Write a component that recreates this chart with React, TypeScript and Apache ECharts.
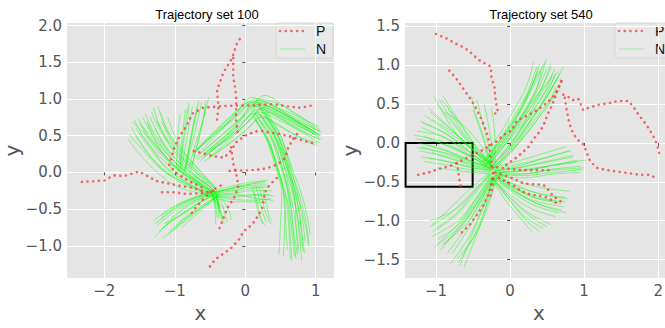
import React, { useEffect, useRef } from "react";
import * as echarts from "echarts";

type Pt = [number, number];

const titles = ["Trajectory set 100", "Trajectory set 540"];
const legendNames = ["P", "N"];

const leftXTicks = [-2, -1, 0, 1];
const leftYTicks = [-1, -0.5, 0, 0.5, 1, 1.5, 2];
const rightXTicks = [-1, 0, 1, 2];
const rightYTicks = [-1.5, -1, -0.5, 0, 0.5, 1, 1.5];

const leftXRange: Pt = [-2.53, 1.26];
const leftYRange: Pt = [-1.44, 2.035];
const rightXRange: Pt = [-1.418, 2.2];
const rightYRange: Pt = [-1.738, 1.542];

// black box in the right panel: [x0, y0], [x1, y1]
const boxRegion: Pt[] = [[-1.41, 0.0], [-0.505, -0.563]];

// ---------- left panel: red "P" trajectories ----------
const leftP: Pt[][] = [
  [[-2.32, -0.13], [-2.0, -0.11], [-1.87, -0.04], [-1.72, -0.05], [-1.55, 0.0], [-1.5, 0.01], [-1.37, -0.06], [-1.25, -0.12], [-1.1, -0.15], [-0.94, -0.18], [-0.75, -0.21], [-0.58, -0.26]],
  [[-1.18, -0.27], [-1.0, -0.27], [-0.87, -0.29], [-0.73, -0.29], [-0.6, -0.28], [-0.45, -0.25]],
  [[-0.4, 0.72], [-0.38, 0.88], [-0.4, 1.12], [-0.35, 1.25], [-0.31, 1.36], [-0.19, 1.55], [-0.12, 1.75], [-0.05, 1.86]],
  [[-0.11, 0.55], [-0.13, 0.72], [-0.13, 0.88], [-0.13, 1.01], [-0.14, 1.14], [-0.17, 1.29], [-0.17, 1.45], [-0.17, 1.62]],
  [[-0.62, -0.2], [-0.8, -0.12], [-0.99, 0.0], [-1.08, 0.1], [-1.01, 0.33], [-0.92, 0.51], [-0.83, 0.64], [-0.75, 0.8], [-0.6, 0.88], [-0.35, 0.9], [-0.17, 0.91], [0.02, 0.91], [0.21, 0.92], [0.4, 0.93], [0.59, 0.9], [0.78, 0.88], [0.99, 0.92]],
  [[-0.73, 0.29], [-0.6, 0.26], [-0.45, 0.22], [-0.3, 0.2], [-0.2, 0.3], [-0.12, 0.42], [0.0, 0.5], [0.12, 0.55], [0.21, 0.57], [0.31, 0.55], [0.45, 0.53], [0.64, 0.49], [0.83, 0.43], [0.99, 0.39]],
  [[-0.5, -1.28], [-0.43, -1.19], [-0.33, -1.12], [-0.21, -1.04], [-0.1, -0.93], [-0.02, -0.8], [0.1, -0.71], [0.19, -0.58], [0.24, -0.49], [0.26, -0.38], [0.28, -0.27], [0.33, -0.19], [0.4, -0.12], [0.5, -0.03]],
  [[-0.22, 0.02], [0.07, 0.03], [0.22, 0.04], [0.35, 0.07], [0.43, 0.1], [0.5, 0.14], [0.57, 0.2], [0.61, 0.34], [0.69, 0.47], [0.76, 0.55]],
  [[-0.2, 0.34], [-0.17, 0.12], [-0.12, -0.05], [-0.1, -0.2], [-0.16, -0.35], [-0.25, -0.48], [-0.3, -0.6], [-0.35, -0.72], [-0.38, -0.8]],
  [[-0.35, -0.18], [-0.45, -0.23], [-0.59, -0.36], [-0.71, -0.49], [-0.78, -0.58]],
];

// ---------- left panel: green "N" trajectories ----------
const leftN: Pt[][] = [
  // upper-left bundle converging near (-0.42, -0.28)
  [[-1.65, 0.52], [-1.45, 0.3], [-1.2, 0.05], [-0.85, -0.15], [-0.5, -0.28]],
  [[-1.58, 0.72], [-1.42, 0.45], [-1.18, 0.18], [-0.9, -0.05], [-0.55, -0.25]],
  [[-1.5, 0.68], [-1.35, 0.42], [-1.1, 0.15], [-0.8, -0.08], [-0.45, -0.3]],
  [[-1.42, 0.8], [-1.3, 0.55], [-1.08, 0.28], [-0.82, 0.02], [-0.5, -0.22], [-0.38, -0.45]],
  [[-1.35, 0.75], [-1.22, 0.5], [-1.02, 0.22], [-0.75, -0.02], [-0.45, -0.25], [-0.35, -0.55]],
  [[-1.3, 0.88], [-1.2, 0.6], [-1.0, 0.32], [-0.72, 0.05], [-0.42, -0.2]],
  [[-1.25, 0.7], [-1.12, 0.45], [-0.95, 0.2], [-0.7, -0.05], [-0.42, -0.3], [-0.38, -0.62]],
  [[-1.55, 0.6], [-1.38, 0.36], [-1.15, 0.1], [-0.85, -0.12], [-0.5, -0.32]],
  [[-1.45, 0.62], [-1.28, 0.4], [-1.05, 0.12], [-0.78, -0.1], [-0.48, -0.28], [-0.42, -0.7]],
  [[-1.2, 0.82], [-1.1, 0.55], [-0.92, 0.28], [-0.68, 0.02], [-0.4, -0.25]],
  [[-1.62, 0.62], [-1.48, 0.4], [-1.25, 0.12], [-0.95, -0.1], [-0.6, -0.25], [-0.4, -0.35]],
  [[-1.38, 0.65], [-1.25, 0.38], [-1.02, 0.1], [-0.72, -0.12], [-0.45, -0.35], [-0.32, -0.65]],
  [[-1.1, 0.75], [-1.0, 0.5], [-0.85, 0.25], [-0.62, 0.0], [-0.38, -0.28]],
  [[-1.5, 0.55], [-1.32, 0.32], [-1.12, 0.05], [-0.8, -0.16], [-0.48, -0.35], [-0.3, -0.5]],
  [[-1.28, 0.6], [-1.15, 0.36], [-0.98, 0.12], [-0.74, -0.08], [-0.46, -0.26]],
  [[-1.6, 0.68], [-1.4, 0.5], [-1.16, 0.24], [-0.88, 0.0], [-0.58, -0.2], [-0.44, -0.3]],
  [[-1.66, 0.45], [-1.5, 0.25], [-1.25, 0.0], [-0.95, -0.2], [-0.55, -0.3]],
  [[-1.52, 0.74], [-1.38, 0.5], [-1.14, 0.22], [-0.86, -0.02], [-0.52, -0.24], [-0.4, -0.5]],
  [[-1.4, 0.7], [-1.26, 0.46], [-1.04, 0.18], [-0.76, -0.06], [-0.46, -0.28]],
  [[-1.33, 0.82], [-1.2, 0.56], [-0.98, 0.26], [-0.7, 0.0], [-0.44, -0.24], [-0.36, -0.5]],
  [[-1.18, 0.68], [-1.06, 0.44], [-0.9, 0.2], [-0.66, -0.04], [-0.4, -0.3]],
  [[-1.56, 0.5], [-1.4, 0.28], [-1.18, 0.04], [-0.88, -0.16], [-0.52, -0.3]],
  [[-1.46, 0.76], [-1.33, 0.52], [-1.12, 0.26], [-0.84, 0.0], [-0.54, -0.2], [-0.42, -0.4]],
  [[-1.24, 0.9], [-1.14, 0.64], [-0.96, 0.36], [-0.7, 0.08], [-0.44, -0.18]],
  // lower-left fan
  [[-0.42, -0.28], [-0.7, -0.4], [-1.0, -0.6], [-1.28, -0.88]],
  [[-0.45, -0.3], [-0.72, -0.45], [-0.98, -0.62], [-1.22, -0.8]],
  [[-0.4, -0.25], [-0.65, -0.35], [-0.95, -0.5], [-1.25, -0.72]],
  [[-0.38, -0.32], [-0.62, -0.48], [-0.88, -0.65], [-1.1, -0.85]],
  [[-0.42, -0.26], [-0.68, -0.32], [-0.92, -0.42], [-1.2, -0.6]],
  [[-0.36, -0.3], [-0.58, -0.45], [-0.8, -0.6], [-1.02, -0.78]],
  [[-0.44, -0.3], [-0.7, -0.38], [-0.9, -0.5], [-1.05, -0.62]],
  [[-0.4, -0.34], [-0.6, -0.5], [-0.75, -0.62], [-0.9, -0.75]],
  [[-0.46, -0.27], [-0.75, -0.36], [-1.05, -0.48], [-1.3, -0.66]],
  [[-0.38, -0.28], [-0.62, -0.4], [-0.85, -0.55], [-1.15, -0.7]],
  [[-0.42, -0.3], [-0.66, -0.42], [-0.92, -0.58], [-1.18, -0.76]],
  [[-0.44, -0.28], [-0.72, -0.36], [-1.0, -0.5], [-1.28, -0.7]],
  [[-0.38, -0.3], [-0.6, -0.44], [-0.84, -0.6], [-1.08, -0.8]],
  [[-0.4, -0.32], [-0.64, -0.5], [-0.9, -0.7], [-1.18, -0.9]],
  [[-0.45, -0.26], [-0.7, -0.34], [-0.96, -0.46], [-1.2, -0.64]],
  // horizontal fan to the right
  [[-0.45, -0.28], [-0.2, -0.22], [0.05, -0.18], [0.3, -0.17]],
  [[-0.42, -0.3], [-0.15, -0.28], [0.1, -0.25], [0.38, -0.25]],
  [[-0.4, -0.26], [-0.1, -0.2], [0.15, -0.14], [0.32, -0.1]],
  [[-0.44, -0.32], [-0.18, -0.34], [0.08, -0.32], [0.35, -0.3]],
  [[-0.38, -0.3], [-0.12, -0.3], [0.12, -0.35], [0.4, -0.38]],
  [[-0.4, -0.28], [-0.15, -0.25], [0.1, -0.22], [0.25, -0.2]],
  [[-0.43, -0.34], [-0.2, -0.4], [0.05, -0.4], [0.3, -0.42]],
  [[-0.4, -0.24], [-0.12, -0.17], [0.1, -0.13], [0.28, -0.12]],
  [[-0.44, -0.26], [-0.18, -0.24], [0.08, -0.2], [0.34, -0.2]],
  [[-0.4, -0.32], [-0.14, -0.32], [0.12, -0.3], [0.4, -0.32]],
  [[-0.42, -0.28], [-0.16, -0.2], [0.06, -0.16], [0.3, -0.14]],
  [[-0.41, -0.33], [-0.16, -0.37], [0.1, -0.38], [0.36, -0.36]],
  // short bundle going down from the convergence
  [[-0.42, -0.28], [-0.38, -0.45], [-0.35, -0.6], [-0.3, -0.7]],
  [[-0.4, -0.3], [-0.32, -0.45], [-0.28, -0.6], [-0.25, -0.68]],
  [[-0.45, -0.3], [-0.42, -0.48], [-0.4, -0.62]],
  [[-0.38, -0.27], [-0.3, -0.4], [-0.22, -0.55], [-0.2, -0.65]],
  [[-0.42, -0.32], [-0.36, -0.5], [-0.3, -0.66]],
  // small bundle going down right of centre
  [[0.1, -0.2], [0.15, -0.4], [0.2, -0.6], [0.25, -0.7]],
  [[0.15, -0.18], [0.2, -0.38], [0.25, -0.55], [0.3, -0.68]],
  [[0.2, -0.2], [0.25, -0.4], [0.3, -0.58], [0.36, -0.7]],
  [[0.12, -0.25], [0.18, -0.45], [0.22, -0.62], [0.28, -0.72]],
  [[0.25, -0.22], [0.3, -0.42], [0.34, -0.6], [0.38, -0.66]],
  // upward bundle around x = -0.8
  [[-0.95, 0.0], [-0.92, 0.3], [-0.88, 0.6], [-0.85, 0.85]],
  [[-0.9, 0.05], [-0.85, 0.35], [-0.8, 0.62], [-0.75, 0.9]],
  [[-0.85, 0.0], [-0.78, 0.3], [-0.7, 0.6], [-0.62, 0.95]],
  [[-0.8, 0.05], [-0.72, 0.35], [-0.62, 0.65], [-0.52, 1.02]],
  [[-0.92, 0.1], [-0.88, 0.4], [-0.82, 0.7], [-0.8, 0.95]],
  [[-0.75, 0.1], [-0.68, 0.4], [-0.6, 0.7], [-0.55, 0.92]],
  [[-0.88, -0.05], [-0.82, 0.25], [-0.76, 0.55], [-0.7, 0.82]],
  [[-0.98, 0.05], [-0.96, 0.35], [-0.95, 0.6], [-0.92, 0.8]],
  [[-0.86, 0.02], [-0.8, 0.32], [-0.74, 0.62], [-0.68, 0.9]],
  [[-0.93, 0.0], [-0.9, 0.3], [-0.86, 0.58], [-0.82, 0.88]],
  [[-0.78, 0.0], [-0.7, 0.3], [-0.62, 0.6], [-0.56, 0.98]],
  [[-0.84, 0.08], [-0.78, 0.38], [-0.72, 0.68], [-0.66, 0.98]],
  // arc over the top to the right
  [[-0.7, 0.2], [-0.4, 0.45], [-0.1, 0.7], [0.1, 0.9], [0.4, 0.8], [0.7, 0.65], [1.05, 0.5]],
  [[-0.65, 0.25], [-0.35, 0.5], [-0.05, 0.75], [0.15, 0.95], [0.45, 0.85], [0.75, 0.7], [1.08, 0.55]],
  [[-0.6, 0.2], [-0.3, 0.42], [0.0, 0.65], [0.2, 0.82], [0.5, 0.7], [0.8, 0.55], [1.05, 0.4]],
  [[-0.72, 0.28], [-0.45, 0.55], [-0.15, 0.8], [0.1, 1.02], [0.4, 0.9], [0.7, 0.78], [1.0, 0.6]],
  [[-0.55, 0.25], [-0.25, 0.45], [0.05, 0.7], [0.25, 0.88], [0.55, 0.75], [0.85, 0.6], [1.08, 0.45]],
  [[-0.68, 0.18], [-0.38, 0.38], [-0.08, 0.62], [0.12, 0.8], [0.42, 0.68], [0.72, 0.5], [1.02, 0.36]],
  [[-0.5, 0.3], [-0.2, 0.55], [0.05, 0.85], [0.28, 1.05], [0.55, 0.9], [0.85, 0.72], [1.05, 0.62]],
  [[-0.62, 0.3], [-0.32, 0.6], [-0.05, 0.88], [0.2, 0.98], [0.5, 0.85], [0.8, 0.66], [1.0, 0.55]],
  [[-0.58, 0.15], [-0.28, 0.35], [0.02, 0.58], [0.22, 0.75], [0.5, 0.62], [0.78, 0.48], [1.02, 0.4]],
  [[-0.75, 0.22], [-0.5, 0.48], [-0.2, 0.72], [0.05, 0.95], [0.35, 0.86], [0.65, 0.72], [0.95, 0.58]],
  [[-0.66, 0.34], [-0.4, 0.58], [-0.12, 0.84], [0.16, 1.0], [0.46, 0.94], [0.78, 0.76], [1.06, 0.58]],
  [[-0.52, 0.2], [-0.22, 0.4], [0.06, 0.62], [0.3, 0.82], [0.6, 0.68], [0.9, 0.52], [1.06, 0.44]],
  [[-0.7, 0.3], [-0.42, 0.52], [-0.12, 0.76], [0.12, 0.96], [0.42, 0.86], [0.72, 0.7], [1.04, 0.52]],
  [[-0.6, 0.24], [-0.3, 0.48], [0.0, 0.72], [0.22, 0.92], [0.52, 0.8], [0.82, 0.64], [1.08, 0.5]],
  [[-0.64, 0.16], [-0.34, 0.4], [-0.04, 0.66], [0.18, 0.86], [0.48, 0.74], [0.76, 0.58], [1.04, 0.46]],
  [[-0.56, 0.28], [-0.26, 0.52], [0.02, 0.8], [0.26, 0.96], [0.56, 0.82], [0.86, 0.66], [1.06, 0.56]],
  [[-0.74, 0.26], [-0.46, 0.5], [-0.16, 0.74], [0.08, 0.92], [0.38, 0.82], [0.68, 0.68], [0.98, 0.52]],
  [[-0.5, 0.22], [-0.2, 0.46], [0.08, 0.72], [0.3, 0.9], [0.58, 0.78], [0.88, 0.6], [1.06, 0.5]],
  // tall bundle on the right going down
  [[0.15, 0.85], [0.35, 0.55], [0.5, 0.15], [0.6, -0.25], [0.65, -0.7], [0.7, -1.15]],
  [[0.2, 0.8], [0.4, 0.5], [0.55, 0.1], [0.68, -0.3], [0.75, -0.7], [0.8, -1.2]],
  [[0.25, 0.75], [0.45, 0.45], [0.6, 0.05], [0.75, -0.35], [0.85, -0.7], [0.9, -1.0]],
  [[0.1, 0.8], [0.28, 0.5], [0.42, 0.1], [0.52, -0.3], [0.5, -0.7], [0.48, -1.12]],
  [[0.3, 0.8], [0.5, 0.5], [0.65, 0.1], [0.8, -0.3], [0.88, -0.6], [0.92, -0.85]],
  [[0.18, 0.9], [0.38, 0.6], [0.52, 0.2], [0.62, -0.2], [0.7, -0.6], [0.76, -1.05]],
  [[0.22, 0.78], [0.42, 0.48], [0.58, 0.08], [0.7, -0.32], [0.72, -0.75], [0.75, -1.1]],
  [[0.12, 0.75], [0.32, 0.45], [0.45, 0.05], [0.56, -0.35], [0.58, -0.8], [0.6, -1.05]],
  [[0.28, 0.85], [0.48, 0.55], [0.62, 0.15], [0.72, -0.2], [0.8, -0.55], [0.85, -0.95]],
  [[0.15, 0.7], [0.34, 0.4], [0.48, 0.0], [0.6, -0.4], [0.64, -0.85], [0.66, -1.2]],
  [[0.2, 0.72], [0.4, 0.42], [0.54, 0.02], [0.64, -0.38], [0.68, -0.8], [0.72, -1.18]],
  [[0.26, 0.82], [0.46, 0.52], [0.6, 0.12], [0.7, -0.25], [0.78, -0.62], [0.82, -1.08]],
  [[0.16, 0.78], [0.36, 0.48], [0.5, 0.08], [0.62, -0.32], [0.68, -0.75], [0.74, -1.12]],
  [[0.24, 0.86], [0.44, 0.56], [0.58, 0.16], [0.7, -0.22], [0.78, -0.66], [0.84, -1.1]],
  [[0.12, 0.84], [0.3, 0.52], [0.44, 0.14], [0.54, -0.26], [0.56, -0.72], [0.54, -1.15]],
  [[0.3, 0.74], [0.5, 0.44], [0.64, 0.04], [0.78, -0.34], [0.86, -0.66], [0.9, -0.95]],
  [[0.2, 0.9], [0.4, 0.6], [0.55, 0.22], [0.66, -0.18], [0.74, -0.58], [0.8, -1.0]],
  [[0.14, 0.72], [0.32, 0.42], [0.46, 0.04], [0.58, -0.36], [0.62, -0.78], [0.64, -1.18]],
];

// ---------- right panel: red "P" trajectories ----------
const rightP: Pt[][] = [
  [[-1.0, 1.4], [-0.92, 1.37], [-0.85, 1.34], [-0.74, 1.28], [-0.61, 1.22], [-0.54, 1.17], [-0.45, 1.09], [-0.38, 1.04], [-0.31, 1.01], [-0.26, 0.98], [-0.25, 0.84], [-0.21, 0.72], [-0.2, 0.59], [-0.18, 0.47], [-0.16, 0.39], [-0.23, 0.37]],
  [[-0.82, 0.93], [-0.71, 0.81], [-0.64, 0.71], [-0.56, 0.6], [-0.49, 0.5], [-0.44, 0.41], [-0.37, 0.27], [-0.31, 0.12], [-0.28, 0.0], [-0.27, -0.15], [-0.24, -0.3], [-0.22, -0.45], [-0.24, -0.58], [-0.27, -0.7]],
  [[-1.24, -0.41], [-1.1, -0.38], [-0.95, -0.33], [-0.82, -0.3], [-0.72, -0.26], [-0.62, -0.21], [-0.52, -0.16], [-0.42, -0.12], [-0.3, -0.05], [-0.18, 0.02], [-0.09, 0.1], [0.02, 0.16], [0.09, 0.28], [0.16, 0.32], [0.27, 0.37], [0.38, 0.43], [0.49, 0.51], [0.58, 0.59], [0.65, 0.69], [0.7, 0.8], [0.72, 0.84]],
  [[-0.05, -0.28], [0.1, -0.18], [0.25, -0.05], [0.31, 0.04], [0.38, 0.12], [0.45, 0.22], [0.5, 0.35], [0.56, 0.47], [0.61, 0.59], [0.65, 0.71], [0.7, 0.82]],
  [[0.72, 0.62], [0.79, 0.59], [0.85, 0.55], [0.92, 0.57], [0.99, 0.42], [1.06, 0.45], [1.19, 0.49], [1.33, 0.51], [1.46, 0.54], [1.6, 0.54], [1.66, 0.47], [1.73, 0.37], [1.82, 0.26], [1.89, 0.16], [1.96, 0.04], [2.0, -0.07], [2.02, -0.16]],
  [[0.74, 0.58], [0.76, 0.45], [0.79, 0.3], [0.83, 0.17], [0.9, 0.05], [0.99, -0.02], [1.03, -0.11], [1.08, -0.23], [1.17, -0.32], [1.31, -0.35], [1.46, -0.37], [1.61, -0.39], [1.75, -0.41], [1.89, -0.41], [1.96, -0.45]],
  [[-0.65, -1.15], [-0.54, -1.05], [-0.45, -0.93], [-0.36, -0.8], [-0.29, -0.66], [-0.25, -0.52], [-0.22, -0.35]],
  [[-0.25, -0.3], [-0.05, -0.33], [0.18, -0.35], [0.36, -0.35], [0.54, -0.35]],
  [[-0.2, -0.38], [0.0, -0.44], [0.18, -0.52], [0.32, -0.53], [0.45, -0.54], [0.5, -0.58], [0.54, -0.64], [0.63, -0.72], [0.7, -0.76]],
  [[-0.15, -0.45], [0.05, -0.55], [0.15, -0.62], [0.27, -0.66], [0.4, -0.68], [0.49, -0.7], [0.6, -0.75], [0.65, -0.8]],
  [[-0.72, -0.26], [-0.7, -0.35], [-0.69, -0.43], [-0.68, -0.49], [-0.66, -0.58]],
];

// ---------- right panel: green "N" trajectories ----------
const rightN: Pt[][] = [
  // up-right
  [[-0.35, -0.25], [-0.1, 0.05], [0.1, 0.35], [0.3, 0.7], [0.45, 1.0]],
  [[-0.3, -0.3], [-0.05, 0.0], [0.15, 0.3], [0.38, 0.6], [0.55, 1.02]],
  [[-0.25, -0.3], [0.0, -0.05], [0.2, 0.25], [0.42, 0.5], [0.65, 0.85]],
  [[-0.4, -0.2], [-0.15, 0.1], [0.05, 0.42], [0.22, 0.72], [0.32, 1.05]],
  [[-0.28, -0.35], [0.02, -0.1], [0.25, 0.2], [0.48, 0.48], [0.7, 0.8]],
  [[-0.32, -0.22], [-0.08, 0.1], [0.12, 0.4], [0.3, 0.75], [0.5, 1.08]],
  [[-0.22, -0.28], [0.05, 0.0], [0.28, 0.3], [0.5, 0.6], [0.72, 0.98]],
  [[-0.38, -0.28], [-0.12, 0.02], [0.08, 0.3], [0.25, 0.62], [0.38, 0.95]],
  [[-0.2, -0.35], [0.08, -0.05], [0.3, 0.22], [0.52, 0.5], [0.62, 0.72]],
  [[-0.35, -0.32], [-0.1, -0.05], [0.15, 0.22], [0.35, 0.52], [0.58, 0.9]],
  [[-0.3, -0.25], [-0.05, 0.08], [0.18, 0.38], [0.35, 0.68], [0.42, 0.92]],
  [[-0.26, -0.33], [0.0, -0.02], [0.22, 0.3], [0.45, 0.62], [0.6, 0.95]],
  [[-0.33, -0.28], [-0.06, 0.04], [0.16, 0.34], [0.4, 0.66], [0.66, 0.92]],
  [[-0.24, -0.36], [0.04, -0.08], [0.26, 0.16], [0.46, 0.42], [0.68, 0.7]],
  [[-0.34, -0.3], [-0.08, 0.0], [0.14, 0.3], [0.34, 0.62], [0.5, 0.96]],
  [[-0.29, -0.28], [-0.02, 0.04], [0.2, 0.34], [0.4, 0.66], [0.56, 0.98]],
  [[-0.36, -0.24], [-0.12, 0.06], [0.1, 0.38], [0.28, 0.7], [0.4, 1.02]],
  [[-0.24, -0.34], [0.04, -0.04], [0.26, 0.26], [0.48, 0.56], [0.68, 0.9]],
  [[-0.3, -0.34], [-0.04, -0.06], [0.2, 0.24], [0.4, 0.54], [0.6, 0.84]],
  [[-0.4, -0.26], [-0.14, 0.04], [0.06, 0.36], [0.24, 0.66], [0.36, 0.98]],
  [[-0.22, -0.32], [0.06, -0.02], [0.28, 0.28], [0.48, 0.6], [0.62, 0.9]],
  [[-0.32, -0.26], [-0.06, 0.06], [0.16, 0.36], [0.36, 0.7], [0.48, 1.04]],
  // up-left
  [[-0.25, -0.3], [-0.5, -0.1], [-0.75, 0.15], [-1.03, 0.6]],
  [[-0.3, -0.28], [-0.55, -0.05], [-0.82, 0.2], [-1.1, 0.45]],
  [[-0.2, -0.32], [-0.45, -0.12], [-0.72, 0.1], [-1.05, 0.3]],
  [[-0.28, -0.25], [-0.5, 0.0], [-0.7, 0.28], [-0.92, 0.55]],
  [[-0.22, -0.35], [-0.5, -0.15], [-0.85, 0.05], [-1.2, 0.2]],
  [[-0.32, -0.3], [-0.6, -0.12], [-0.9, 0.08], [-1.25, 0.15]],
  [[-0.25, -0.28], [-0.48, -0.05], [-0.68, 0.2], [-0.85, 0.48]],
  [[-0.3, -0.32], [-0.58, -0.15], [-0.95, 0.0], [-1.28, 0.05]],
  [[-0.24, -0.3], [-0.52, -0.08], [-0.8, 0.12], [-1.15, 0.35]],
  [[-0.2, -0.25], [-0.42, 0.0], [-0.62, 0.22], [-0.88, 0.4]],
  [[-0.27, -0.27], [-0.54, -0.02], [-0.78, 0.26], [-0.98, 0.5]],
  [[-0.26, -0.32], [-0.54, -0.12], [-0.84, 0.1], [-1.18, 0.26]],
  [[-0.28, -0.26], [-0.52, -0.02], [-0.74, 0.24], [-0.96, 0.56]],
  [[-0.22, -0.3], [-0.48, -0.1], [-0.76, 0.14], [-1.08, 0.4]],
  [[-0.3, -0.3], [-0.56, -0.1], [-0.86, 0.12], [-1.22, 0.28]],
  [[-0.24, -0.28], [-0.46, -0.04], [-0.66, 0.24], [-0.9, 0.6]],
  [[-0.27, -0.33], [-0.56, -0.16], [-0.92, 0.02], [-1.3, 0.1]],
  // up
  [[-0.25, -0.3], [-0.3, 0.0], [-0.38, 0.3], [-0.45, 0.55]],
  [[-0.22, -0.3], [-0.25, 0.0], [-0.3, 0.28], [-0.35, 0.5]],
  [[-0.28, -0.28], [-0.35, 0.02], [-0.45, 0.3], [-0.52, 0.6]],
  [[-0.2, -0.32], [-0.2, -0.05], [-0.22, 0.25], [-0.25, 0.45]],
  [[-0.26, -0.35], [-0.32, -0.05], [-0.4, 0.2], [-0.5, 0.42]],
  // left
  [[-0.25, -0.35], [-0.55, -0.25], [-0.85, -0.15], [-1.2, -0.05]],
  [[-0.28, -0.32], [-0.6, -0.2], [-0.9, -0.08], [-1.25, 0.0]],
  [[-0.22, -0.38], [-0.5, -0.32], [-0.8, -0.25], [-1.1, -0.2]],
  [[-0.3, -0.35], [-0.6, -0.3], [-0.92, -0.22], [-1.2, -0.18]],
  [[-0.25, -0.4], [-0.5, -0.38], [-0.75, -0.35], [-1.0, -0.32]],
  [[-0.24, -0.3], [-0.52, -0.18], [-0.82, -0.05], [-1.15, 0.08]],
  [[-0.26, -0.36], [-0.56, -0.28], [-0.88, -0.18], [-1.22, -0.1]],
  [[-0.24, -0.34], [-0.52, -0.24], [-0.82, -0.12], [-1.14, -0.02]],
  [[-0.28, -0.38], [-0.58, -0.34], [-0.88, -0.28], [-1.16, -0.24]],
  [[-0.23, -0.36], [-0.5, -0.28], [-0.78, -0.2], [-1.06, -0.12]],
  [[-0.27, -0.32], [-0.58, -0.22], [-0.9, -0.12], [-1.26, -0.06]],
  // down-left
  [[-0.25, -0.4], [-0.45, -0.7], [-0.7, -1.0], [-1.05, -1.2]],
  [[-0.22, -0.45], [-0.4, -0.75], [-0.6, -1.05], [-0.9, -1.3]],
  [[-0.2, -0.42], [-0.35, -0.8], [-0.5, -1.15], [-0.68, -1.58]],
  [[-0.28, -0.42], [-0.5, -0.65], [-0.78, -0.88], [-1.08, -1.0]],
  [[-0.24, -0.45], [-0.42, -0.8], [-0.62, -1.12], [-0.85, -1.42]],
  [[-0.26, -0.38], [-0.48, -0.62], [-0.72, -0.9], [-1.0, -1.1]],
  [[-0.18, -0.45], [-0.3, -0.82], [-0.48, -1.2], [-0.72, -1.5]],
  [[-0.3, -0.4], [-0.55, -0.6], [-0.82, -0.85], [-1.05, -1.05]],
  [[-0.22, -0.48], [-0.38, -0.85], [-0.55, -1.2], [-0.8, -1.55]],
  [[-0.27, -0.44], [-0.46, -0.72], [-0.68, -1.02], [-0.98, -1.3]],
  [[-0.2, -0.4], [-0.4, -0.72], [-0.65, -1.05], [-1.02, -1.34]],
  [[-0.25, -0.48], [-0.35, -0.9], [-0.5, -1.3], [-0.62, -1.6]],
  [[-0.23, -0.43], [-0.44, -0.76], [-0.7, -1.1], [-0.94, -1.38]],
  [[-0.24, -0.42], [-0.44, -0.72], [-0.68, -1.04], [-0.98, -1.24]],
  [[-0.21, -0.44], [-0.38, -0.78], [-0.56, -1.1], [-0.78, -1.42]],
  [[-0.26, -0.4], [-0.48, -0.66], [-0.74, -0.94], [-1.04, -1.14]],
  [[-0.19, -0.46], [-0.33, -0.84], [-0.5, -1.22], [-0.7, -1.54]],
  [[-0.25, -0.44], [-0.43, -0.74], [-0.64, -1.06], [-0.92, -1.32]],
  [[-0.28, -0.4], [-0.52, -0.64], [-0.8, -0.9], [-1.08, -1.08]],
  // right
  [[-0.2, -0.35], [0.1, -0.3], [0.45, -0.2], [0.82, -0.1]],
  [[-0.22, -0.38], [0.12, -0.35], [0.5, -0.3], [0.9, -0.25]],
  [[-0.18, -0.4], [0.15, -0.4], [0.55, -0.35], [1.0, -0.32]],
  [[-0.24, -0.32], [0.05, -0.25], [0.4, -0.15], [0.75, -0.05]],
  [[-0.2, -0.42], [0.18, -0.45], [0.58, -0.4], [0.95, -0.38]],
  [[-0.22, -0.36], [0.1, -0.32], [0.48, -0.25], [0.85, -0.18]],
  [[-0.16, -0.38], [0.2, -0.36], [0.6, -0.28], [1.03, -0.22]],
  [[-0.21, -0.36], [0.12, -0.32], [0.48, -0.24], [0.86, -0.16]],
  [[-0.19, -0.4], [0.16, -0.4], [0.54, -0.34], [0.96, -0.3]],
  [[-0.23, -0.34], [0.08, -0.28], [0.44, -0.2], [0.8, -0.1]],
  [[-0.2, -0.38], [0.14, -0.36], [0.52, -0.3], [0.92, -0.22]],
  [[-0.18, -0.42], [0.18, -0.42], [0.56, -0.38], [0.98, -0.34]],
  // down-right
  [[-0.2, -0.4], [0.1, -0.55], [0.4, -0.65], [0.75, -0.7]],
  [[-0.22, -0.45], [0.05, -0.62], [0.35, -0.75], [0.72, -0.82]],
  [[-0.25, -0.42], [0.0, -0.7], [0.25, -0.9], [0.55, -1.05]],
  [[-0.18, -0.45], [0.1, -0.65], [0.42, -0.8], [0.76, -0.9]],
  [[-0.24, -0.48], [-0.05, -0.75], [0.15, -0.98], [0.3, -1.15]],
  [[-0.2, -0.38], [0.12, -0.5], [0.45, -0.58], [0.8, -0.62]],
  [[-0.23, -0.46], [0.02, -0.68], [0.3, -0.85], [0.62, -0.95]],
  [[-0.21, -0.44], [0.08, -0.6], [0.38, -0.72], [0.7, -0.78]],
  [[-0.26, -0.45], [-0.02, -0.72], [0.2, -0.95], [0.45, -1.1]],
  [[-0.2, -0.42], [0.06, -0.58], [0.32, -0.7], [0.6, -0.75]],
  [[-0.21, -0.42], [0.08, -0.58], [0.38, -0.7], [0.74, -0.76]],
  [[-0.23, -0.44], [0.04, -0.64], [0.32, -0.8], [0.66, -0.9]],
  [[-0.24, -0.46], [0.0, -0.7], [0.24, -0.92], [0.5, -1.08]],
  [[-0.19, -0.41], [0.1, -0.56], [0.42, -0.66], [0.78, -0.72]],
  [[-0.22, -0.47], [0.0, -0.74], [0.2, -0.98], [0.4, -1.14]],
  [[-0.2, -0.44], [0.08, -0.62], [0.36, -0.78], [0.7, -0.86]],
];

const FONT_TICK = "DejaVu Sans";
const FONT_TEXT = "Liberation Sans, Arial, sans-serif";
const RED = "rgba(240,70,70,0.8)";
const GREEN = "#00ff00";

function fmtY(v: number) {
  return (v < 0 ? "\u2212" : "") + Math.abs(v).toFixed(1);
}
function fmtX(v: number) {
  return (v < 0 ? "\u2212" : "") + String(Math.abs(v));
}

function makeAxis(
  gridIndex: number,
  range: Pt,
  ticks: number[],
  fmt: (v: number) => string,
  name: string,
  isY: boolean
) {
  return {
    type: "value",
    gridIndex,
    min: range[0],
    max: range[1],
    name,
    nameLocation: "middle",
    nameGap: isY ? 44 : 16,
    nameRotate: isY ? 90 : 0,
    nameTextStyle: { color: "#555", fontSize: 20, fontFamily: FONT_TICK },
    axisLine: { show: false },
    axisTick: {
      show: true,
      customValues: ticks,
      length: 3,
      lineStyle: { color: "#555", width: 1 },
    },
    axisLabel: {
      customValues: ticks,
      formatter: (v: number) => fmt(v),
      color: "#555",
      fontSize: 15,
      fontFamily: FONT_TICK,
      margin: 5,
    },
    splitLine: { show: true, lineStyle: { color: "#ffffff", width: 1 } },
  };
}

function redSeries(name: string, data: Pt[][], idx: number) {
  return {
    type: "lines",
    name,
    coordinateSystem: "cartesian2d",
    xAxisIndex: idx,
    yAxisIndex: idx,
    polyline: true,
    silent: true,
    z: 4,
    lineStyle: { color: RED, width: 2.6, type: [0.1, 5.6], cap: "round", opacity: 1 },
    data: data.map((c) => ({ coords: c })),
  };
}

function greenSeries(name: string, data: Pt[][], idx: number) {
  return data.map((line) => ({
    type: "line",
    name,
    xAxisIndex: idx,
    yAxisIndex: idx,
    data: line,
    smooth: 0.35,
    showSymbol: false,
    silent: true,
    z: 3,
    lineStyle: { color: GREEN, width: 1, opacity: 0.42 },
  }));
}

function legendGraphic(x: number, y: number, w: number) {
  const txt = (t: string, yy: number) => ({
    type: "text",
    x: 40,
    y: yy,
    style: {
      text: t,
      fontSize: 14,
      fontFamily: FONT_TEXT,
      fill: "#111",
      textVerticalAlign: "middle",
    },
  });
  return {
    type: "group",
    x,
    y,
    z: 100,
    children: [
      {
        type: "rect",
        shape: { x: 0, y: 0, width: w, height: 35, r: 2 },
        style: { fill: "rgba(233,233,233,0.85)", stroke: "#d6d6d6", lineWidth: 1 },
      },
      {
        type: "line",
        shape: { x1: 4, y1: 8, x2: 29, y2: 8 },
        style: { stroke: RED, lineWidth: 2.6, lineDash: [0.1, 5.6], lineCap: "round" },
      },
      {
        type: "line",
        shape: { x1: 4, y1: 26, x2: 29, y2: 26 },
        style: { stroke: "rgba(0,255,0,0.35)", lineWidth: 1 },
      },
      txt(legendNames[0], 8),
      txt(legendNames[1], 26),
    ],
  };
}

export default function App() {
  const ref = useRef<HTMLDivElement>(null);

  useEffect(() => {
    if (!ref.current) return;
    const chart = echarts.init(ref.current, undefined, { renderer: "svg" });
    const title = (t: string, x: number) => ({
      type: "text",
      x,
      y: 14,
      style: {
        text: t,
        fontSize: 13,
        fontFamily: FONT_TEXT,
        fill: "#000",
        textAlign: "center",
        textVerticalAlign: "middle",
      },
    });
    const option = {
      animation: false,
      backgroundColor: "#ffffff",
      grid: [
        { left: 67, top: 23, width: 267, height: 266, show: true, backgroundColor: "#e5e5e5", borderWidth: 0 },
        { left: 405, top: 23, width: 268, height: 266, show: true, backgroundColor: "#e5e5e5", borderWidth: 0 },
      ],
      xAxis: [
        makeAxis(0, leftXRange, leftXTicks, fmtX, "x", false),
        makeAxis(1, rightXRange, rightXTicks, fmtX, "x", false),
      ],
      yAxis: [
        makeAxis(0, leftYRange, leftYTicks, fmtY, "y", true),
        makeAxis(1, rightYRange, rightYTicks, fmtY, "y", true),
      ],
      series: [
        ...greenSeries(legendNames[1], leftN, 0),
        redSeries(legendNames[0], leftP, 0),
        ...greenSeries(legendNames[1], rightN, 1),
        redSeries(legendNames[0], rightP, 1),
        {
          type: "scatter",
          xAxisIndex: 1,
          yAxisIndex: 1,
          data: [],
          silent: true,
          markArea: {
            silent: true,
            itemStyle: { color: "rgba(0,0,0,0)", borderColor: "#000", borderWidth: 2 },
            data: [[{ coord: boxRegion[0] }, { coord: boxRegion[1] }]],
          },
          z: 6,
        },
      ],
      graphic: [
        title(titles[0], 207),
        title(titles[1], 541),
        legendGraphic(276, 23, 57),
        legendGraphic(615, 23, 60),
      ],
    };
    chart.setOption(option as any);
    return () => chart.dispose();
  }, []);

  return (
    <div
      style={{
        position: "fixed",
        left: 0,
        top: 0,
        width: 665,
        height: 328,
        overflow: "hidden",
        background: "#fff",
      }}
    >
      <div ref={ref} style={{ width: 675, height: 328 }} />
    </div>
  );
}
